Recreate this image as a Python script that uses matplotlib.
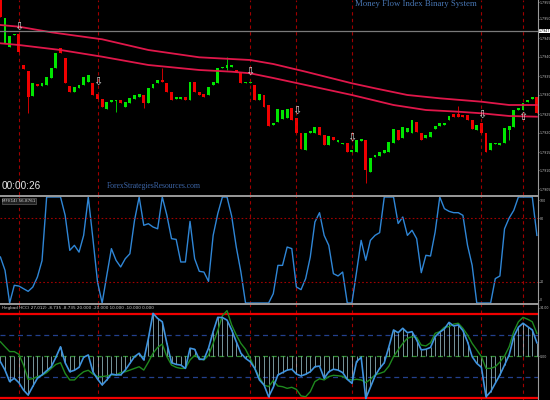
import numpy as np
import matplotlib
matplotlib.use('Agg')
import matplotlib.pyplot as plt
from matplotlib.lines import Line2D

# candle data (price level, arbitrary units; 1 unit ~ 1 screen pixel)
opens = [200, 157, 153.3, 164.7, 166, 135, 129, 104, 116, 114, 115, 121.7, 131.7, 151.7, 141.7, 114, 108.3, 111.7, 115, 118.3,
         116.7, 106, 101, 91, 98.3, 99, 100, 92.7, 96.7, 101, 103.3, 105, 96.7, 111.7, 117.3, 120, 117.3, 108.3, 101, 101,
         103.3, 100, 118.3, 108.3, 105.7, 105, 115, 117.3, 131.7, 131.7, 133.3, 130, 128.3, 116.7, 116.7, 115, 100, 105, 95, 75,
         78.3, 80.7, 81.7, 91.7, 81.7, 66.7, 50, 67.3, 67.3, 72.7, 65, 55, 63.3, 58.3, 56, 57.3, 48.3, 48.3, 59.3, 60,
         28.3, 43.3, 44, 47.3, 48.3, 56.7, 70, 61.7, 68.3, 67.3, 78.3, 66.7, 61.7, 62.7, 70.7, 74, 75, 80, 86, 86,
         85, 85, 80, 70, 77.3, 67.3, 50, 56, 55, 56.7, 70, 73.3, 90, 90, 98.3, 101.3, 103.3]
closes = [183.3, 181.7, 164, 166, 148.3, 130.7, 103.3, 117.3, 114, 116.7, 122.7, 131.7, 146.7, 146.7, 116.7, 108.3, 112.7, 115, 123.3, 125,
          105, 101, 92.7, 97.7, 99.3, 100, 96.7, 97.7, 101.7, 105, 106, 96.7, 112.3, 116, 120, 118.3, 108.3, 100, 103.3, 103.3,
          100, 118.3, 108.3, 105, 103.3, 113.3, 118.3, 131.7, 133.3, 135, 135, 128.3, 116.7, 118.3, 118.3, 100, 105.7, 93.3, 74, 76.7,
          90.7, 90, 90.7, 80, 67.3, 50.7, 67.3, 69.3, 72.7, 65, 55, 64, 60, 60, 57.3, 48.3, 50, 60, 60.7, 30,
          41.7, 45, 48.3, 50, 58.3, 70.7, 60, 73.3, 71.7, 80, 68.3, 60, 65, 68.3, 74, 76.7, 77.3, 84, 83.3, 82.7,
          83.3, 80, 70.7, 75, 67.3, 48.3, 57.3, 57.3, 56.7, 71.7, 74, 90, 91.7, 96.7, 100, 103.3, 86.7]
wick_idx = [6, 25, 31, 35, 49, 79, 99, 110]
wick_hi = [129, 100, 105, 131.7, 143.3, 60, 94, 74]
wick_lo = [86.7, 88.3, 91.7, 118.3, 130, 16.7, 82.7, 60]

# two moving averages
ma_up_idx = [0, 4, 11, 22, 32, 43, 54, 59, 66, 76, 81, 88, 95, 104, 110, 116]
ma_up = [175, 173.3, 167.7, 160.7, 150, 142.7, 140, 136, 128.3, 116.7, 111.7, 105, 101.7, 98.3, 95, 95]
ma_lo_idx = [0, 4, 13, 22, 32, 43, 50, 54, 59, 66, 76, 85, 92, 99, 104, 110, 116]
ma_lo = [156.7, 155, 150, 143.3, 135, 130, 128.3, 126.7, 122, 115, 105, 95, 90, 88.3, 86.7, 84, 83.3]

# signal arrows
dn_idx = [4, 21, 54, 64, 76, 104]
dn_lvl = [173, 118.5, 128.5, 89, 62.5, 85.5]
up_idx = [113]
up_lvl = [83.5]
signal_idx = [4, 21, 54, 64, 76, 104, 113]

price_ticks = [197.5, 181, 162, 143, 124, 105, 86, 67, 48, 30, 11]
price_labels = ['1.7955', '1.7950', '1.7945', '1.7940', '1.7935', '1.7930', '1.7925', '1.7920', '1.7915', '1.7910', '1.7905']
cur_level = 169
cur_label = '1.7947'

mfi = [43.4, 30.8, 0, 16.7, 16, 13.5, 11, 15, 24.5, 40, 100, 100, 100, 100, 82.7, 49.7, 54.4, 48, 63.8, 100,
       60.7, 19.8, 0, 26, 51.3, 40.3, 34, 41.8, 46.5, 78, 100, 73.3, 74.8, 71.7, 70, 100, 82.7, 60.7, 60, 38.7,
       38.7, 77, 41.8, 29.9, 29.2, 20.4, 63.8, 84.3, 100, 100, 82, 52.8, 29.2, 0, 0, 0, 0, 0, 0, 8.8,
       35.5, 35.5, 52.8, 51.3, 15.1, 12.6, 23, 43.4, 76.4, 85.2, 63.8, 54.4, 27.7, 25.5, 29.2, 0, 0, 29.2, 59.1, 40.3,
       59.1, 63.8, 66.4, 100, 100, 100, 75, 81.1, 63.8, 68.6, 60.7, 28.6, 45, 44.3, 67, 100, 89, 86.5, 85.2, 85.2,
       82.7, 54.4, 35.5, 0, 0, 0, 0, 23, 25.5, 70, 80.2, 87.4, 100, 100, 100, 100, 63.8]

osc = [-2.7, -6.7, -12.2, -10.6, -12.7, -16.2, -18.6, -14.5, -10.6, -9, -7, -5.1, -0.6, 4.4, -3.2, -7.5, -6.8, -5.4, -0.6, 0.5,
       -7.5, -11, -13.8, -11.4, -8.6, -9, -9, -6.7, -3.5, -0.3, 1.3, -1.9, 8.4, 20.3, 17.9, 16.3, 6, -3.2, -4, -4.3,
       -5.9, 3.7, 3.2, -1.6, -1.6, 3.7, 11.6, 18.4, 18.3, 17.1, 12.4, 6.8, 1.3, -1.1, -2.7, -5.9, -11.4, -13.8, -19.4, -14.9,
       -9, -7.9, -6.7, -6.3, -8.6, -9.5, -8.7, -7.5, -5.1, -4.8, -10.6, -7.5, -6.3, -6.7, -7.9, -11.1, -13, -2.7, -0.6, -20.2,
       -14.9, -9.5, -5.9, -3.2, 4.4, 12.4, 11.1, 13.2, 11.1, 11.6, 7.6, 2.9, 3.2, 4.1, 9.2, 11.3, 12.9, 16, 14.3, 14.8,
       12.1, 6.8, -0.3, -3.5, -5.4, -19.4, -17, -13, -9, -4.3, 0.5, 9.2, 13.7, 15.6, 14, 12.4, 6.3]
osc_sig = [6.8, 4.4, 2.1, 2.1, 0.8, -4.3, -11.1, -10.8, -9.8, -9.2, -7.9, -5.9, -4, -3.2, -8.3, -11.4, -11.4, -9.2, -7.5, -6.8,
           -8.6, -9.8, -9.8, -9.5, -9, -9, -7.9, -7.5, -6.7, -5.9, -5.1, -6.7, -2.9, 1.3, 4.1, 5.7, -0.3, -4.3, -5.4, -5.9,
           -5.9, -1.9, 0.3, -1.1, -1.9, 0.3, 6, 12.1, 19.2, 21.6, 14.8, 10, 6, 3.2, -1.1, -5.9, -10.2, -13.8, -14.6, -11.7,
           -14.3, -14.6, -15.4, -14.9, -15.9, -19, -19.4, -17, -12.2, -10.8, -11.4, -9.8, -9.2, -9.4, -9.7, -11.1, -11.4, -11.1, -11.4, -12.7,
           -11.1, -9, -8.3, -7.5, -4.8, -0.3, 2.9, 6, 8.4, 9.2, 8.9, 5.2, 4.8, 6.3, 10.8, 11.6, 13.7, 14, 15.2, 15.6,
           13.2, 10, 6, 2.9, -0.3, -5.9, -5.9, -5.1, -2.9, 0, 4.4, 11.6, 16.3, 18.4, 17.5, 16.3, 10.8]

W, H = 550, 400
fig = plt.figure(figsize=(W / 100, H / 100), dpi=100, facecolor='black')

def pane(y0, y1):
    a = fig.add_axes([0, 1 - y1 / H, 538 / W, (y1 - y0) / H])
    a.set_facecolor('black')
    for s in a.spines.values():
        s.set_visible(False)
    a.spines['right'].set_visible(True)
    a.spines['right'].set_color('#9a9a9a')
    a.set_xticks([])
    a.set_xlim(-0.4 / 4.625, (538 - 0.4) / 4.625)
    a.yaxis.tick_right()
    a.tick_params(axis='y', colors='#bdbdbd', labelsize=2.3, length=1, pad=0.3, width=0.5)
    for i in signal_idx:
        a.axvline(i, color='#a00000', lw=0.8, ls=(0, (3, 3)))
    return a

ax1 = pane(0, 195)
ax2 = pane(196, 304)
ax3 = pane(304, 400)

# main price pane
n = len(opens)
idx = np.arange(n)
o = np.array(opens)
c = np.array(closes)
up = c >= o
cols = np.where(up, '#00e600', '#f00000')
hi = np.maximum(o, c)
lo = np.minimum(o, c)
for k, i in enumerate(wick_idx):
    hi[i] = max(hi[i], wick_hi[k])
    lo[i] = min(lo[i], wick_lo[k])
ax1.vlines(idx, lo, hi, colors=cols, lw=0.6)
ax1.bar(idx, np.maximum(np.abs(c - o), 1.3), bottom=np.minimum(o, c), width=0.62, color=cols, lw=0)
ax1.plot(ma_up_idx, ma_up, color='#e0174a', lw=1.3)
ax1.plot(ma_lo_idx, ma_lo, color='#e0174a', lw=1.3)
ax1.axhline(cur_level, color='#7a7a7a', lw=0.9)
for i, v in zip(dn_idx, dn_lvl):
    ax1.text(i, v, '\u21e9', ha='center', va='center', fontsize=8, color='#d8d8d8')
for i, v in zip(up_idx, up_lvl):
    ax1.text(i, v, '\u21e7', ha='center', va='center', fontsize=8, color='#d8d8d8')
ax1.set_ylim(5, 200)
ax1.set_yticks(price_ticks)
ax1.set_yticklabels(price_labels)
ax1.text(2 / 538, 0.046, '00:00:26', transform=ax1.transAxes, fontsize=7.2, family='Liberation Sans',
         color='#e8e8e8', va='center', ha='left')
ax1.text(107 / 538, 0.046, 'ForexStrategiesResources.com', transform=ax1.transAxes, fontsize=5.5,
         family='Liberation Serif', color='#3d66a8', va='center', ha='left')
ax1.text(355 / 538, 0.977, 'Money Flow Index Binary System', transform=ax1.transAxes, fontsize=6.3,
         family='Liberation Serif', color='#4877b5', va='center', ha='left')
fig.text(539 / W, 1 - 31 / H, cur_label, fontsize=2.3, color='black', va='center', ha='left',
         bbox=dict(facecolor='white', edgecolor='none', pad=0.3))

# MFI pane
ax2.plot(idx, mfi, color='#2f86d6', lw=1)
ax2.axhline(80, color='#a00000', lw=0.8, ls=(0, (1.5, 2)))
ax2.axhline(20, color='#a00000', lw=0.8, ls=(0, (1.5, 2)))
ax2.set_ylim(-0.94, 100.94)
ax2.set_yticks([97, 80, 20, 3])
ax2.set_yticklabels(['100', '80', '20', '0'])
ax2.text(0.004, 0.954, 'MFI(14) 56.8761', transform=ax2.transAxes, fontsize=3, color='#cfcfcf', va='center',
         bbox=dict(facecolor='#202020', edgecolor='#707070', pad=0.4, lw=0.4))

# oscillator pane
ax3.axhline(20, color='#f00000', lw=1.6)
ax3.axhline(-20, color='#f00000', lw=1.6)
ax3.axhline(10, color='#23408e', lw=0.9, ls=(0, (4, 3)))
ax3.axhline(-10, color='#23408e', lw=0.9, ls=(0, (4, 3)))
ax3.axhline(0, color='#2e8b2e', lw=0.9, ls=(0, (4, 3)))
ax3.vlines(idx, 0, osc, colors='#a8d0d8', lw=0.5)
ax3.plot(idx, osc_sig, color='#1f8a1f', lw=1)
ax3.plot(idx, osc, color='#3f94e0', lw=1.2)
ax3.set_ylim(-20.95, 24.76)
ax3.set_yticks([22.9, 0])
ax3.set_yticklabels(['34.00', '0.00'])
ax3.text(0.004, 0.958, 'Hegbad HCC( 27,012) -8.735 -8.735 20.000 -20.000 10.000 -10.000 0.000',
         transform=ax3.transAxes, fontsize=3, color='#cfcfcf', va='center')

# pane separators
for yp in (195.5, 303.8):
    fig.add_artist(Line2D([0, 538 / W], [1 - yp / H, 1 - yp / H], transform=fig.transFigure, color='#9a9a9a', lw=1.4))

fig.savefig('out.png', dpi=100, facecolor='black')
